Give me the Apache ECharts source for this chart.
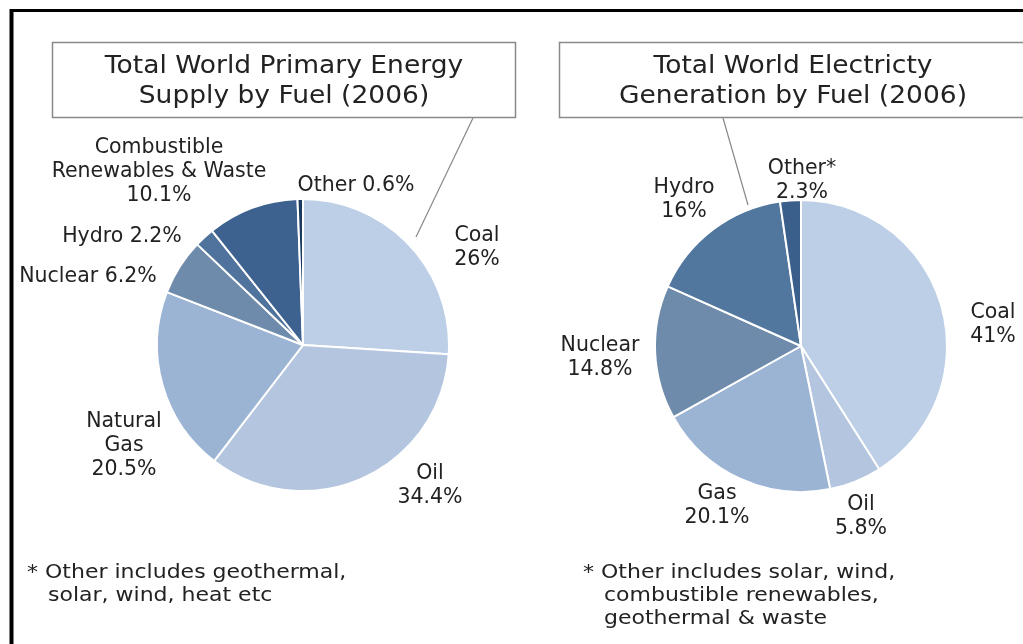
<!DOCTYPE html>
<html>
<head>
<meta charset="utf-8">
<script src="https://cdn.jsdelivr.net/npm/echarts@6/dist/echarts.min.js"></script>
<style>
html,body{margin:0;padding:0;background:#fff;}
#c{width:1023px;height:644px;}
</style>
</head>
<body>
<div id="c"></div>
<script>
// ---- Data ----
const energyNames = ['Coal', 'Oil', 'Natural Gas', 'Nuclear', 'Hydro', 'Combustible Renewables & Waste', 'Other'];
const energyValues = [26, 34.4, 20.5, 6.2, 2.2, 10.1, 0.6];
const energyLabels = ['Coal\n26%', 'Oil\n34.4%', 'Natural\nGas\n20.5%', 'Nuclear 6.2%', 'Hydro 2.2%', 'Combustible\nRenewables & Waste\n10.1%', 'Other 0.6%'];

const elecNames = ['Coal', 'Oil', 'Gas', 'Nuclear', 'Hydro', 'Other*'];
const elecValues = [41, 5.8, 20.1, 14.8, 16, 2.3];
const elecLabels = ['Coal\n41%', 'Oil\n5.8%', 'Gas\n20.1%', 'Nuclear\n14.8%', 'Hydro\n16%', 'Other*\n2.3%'];

const titleLeft = 'Total World Primary Energy\nSupply by Fuel (2006)';
const titleRight = 'Total World Electricty\nGeneration by Fuel (2006)';
const noteLeft = '* Other includes geothermal,\n   solar, wind, heat etc';
const noteRight = '* Other includes solar, wind,\n   combustible renewables,\n   geothermal & waste';

// ---- Styles ----
const energyColors = ['#bccfe6', '#b4c6df', '#9cb4d4', '#6e8bab', '#4f739d', '#3e6290', '#1a3a60'];
const elecColors = ['#bccfe6', '#b4c6df', '#9cb4d4', '#6e8bab', '#52779f', '#3b5f8b'];
const FONT = 'DejaVu Sans';

// label block centers
const energyLabelPos = [[477, 248], [430, 486], [124, 446], [88, 277], [122, 237], [159, 172], [356, 186]];
const elecLabelPos = [[993, 325], [861, 517], [717, 506], [600, 358], [684, 200], [802, 181]];

function pieSeries(names, values, labels, colors, center, posTable) {
  return {
    type: 'pie',
    center: center,
    radius: 146,
    startAngle: 90,
    clockwise: true,
    avoidLabelOverlap: false,
    animation: false,
    itemStyle: {borderColor: '#fff', borderWidth: 2},
    label: {
      show: true,
      position: 'outside',
      formatter: p => labels[p.dataIndex],
      fontFamily: FONT,
      fontSize: 20.5,
      lineHeight: 24,
      color: '#222',
      align: 'center'
    },
    labelLine: {show: false},
    emphasis: {disabled: true},
    labelLayout: function (p) {
      const pos = posTable[p.dataIndex];
      return {x: pos[0], y: pos[1], align: 'center', verticalAlign: 'middle'};
    },
    data: names.map((n, i) => ({name: n, value: values[i], itemStyle: {color: colors[i]}}))
  };
}

const chart = echarts.init(document.getElementById('c'), null, {renderer: 'canvas'});
chart.setOption({
  backgroundColor: '#fff',
  animation: false,
  graphic: [
    // frame
    {type: 'line', shape: {x1: 11.5, y1: 9, x2: 11.5, y2: 644}, style: {stroke: '#000', lineWidth: 4}},
    {type: 'line', shape: {x1: 10, y1: 10.5, x2: 1023, y2: 10.5}, style: {stroke: '#000', lineWidth: 3}},
    // title boxes
    {type: 'rect', shape: {x: 52.5, y: 42.5, width: 463, height: 75}, style: {fill: '#fff', stroke: '#8a8a8a', lineWidth: 1.5}},
    {type: 'rect', shape: {x: 559.5, y: 42.5, width: 480, height: 75}, style: {fill: '#fff', stroke: '#8a8a8a', lineWidth: 1.5}},
    {type: 'text', x: 284, y: 81, scaleX: 1.06, style: {text: titleLeft, fontFamily: FONT, fontSize: 25, fill: '#222', align: 'center', verticalAlign: 'middle', lineHeight: 30}},
    {type: 'text', x: 793, y: 81, scaleX: 1.06, style: {text: titleRight, fontFamily: FONT, fontSize: 25, fill: '#222', align: 'center', verticalAlign: 'middle', lineHeight: 30}},
    // leader lines
    {type: 'line', shape: {x1: 473, y1: 118, x2: 416, y2: 237}, style: {stroke: '#888', lineWidth: 1.2}},
    {type: 'line', shape: {x1: 723, y1: 118, x2: 748, y2: 205}, style: {stroke: '#888', lineWidth: 1.2}},
    // footnotes
    {type: 'text', x: 27, y: 584, scaleX: 1.1, style: {text: noteLeft, fontFamily: FONT, fontSize: 20, fill: '#222', verticalAlign: 'middle', lineHeight: 23}},
    {type: 'text', x: 583, y: 596, scaleX: 1.1, style: {text: noteRight, fontFamily: FONT, fontSize: 20, fill: '#222', verticalAlign: 'middle', lineHeight: 23}}
  ],
  series: [
    pieSeries(energyNames, energyValues, energyLabels, energyColors, [303, 345], energyLabelPos),
    pieSeries(elecNames, elecValues, elecLabels, elecColors, [801, 346], elecLabelPos)
  ]
});
</script>
</body>
</html>
